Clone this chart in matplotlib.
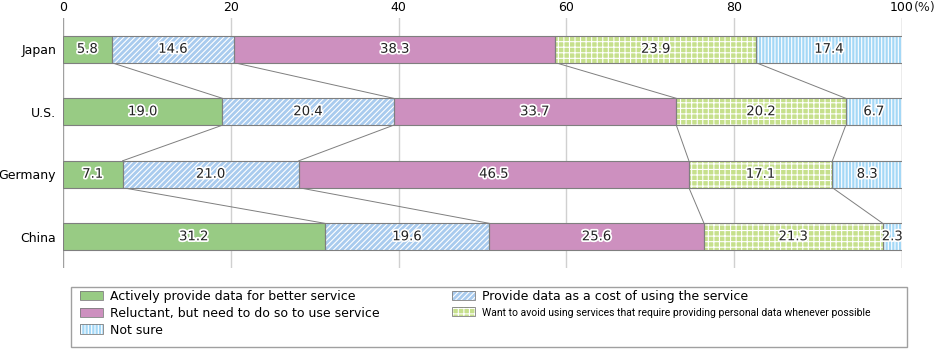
import matplotlib
matplotlib.use("Agg")
import matplotlib.pyplot as plt
import matplotlib.patheffects as pe
from matplotlib.patches import Patch, Rectangle
import numpy as np

countries = ["Japan", "U.S.", "Germany", "China"]
categories = [
    "Actively provide data for better service",
    "Provide data as a cost of using the service",
    "Reluctant, but need to do so to use service",
    "Want to avoid using services that require providing personal data whenever possible",
    "Not sure",
]
actively = [5.8, 19.0, 7.1, 31.2]
as_cost = [14.6, 20.4, 21.0, 19.6]
reluctant = [38.3, 33.7, 46.5, 25.6]
avoid = [23.9, 20.2, 17.1, 21.3]
not_sure = [17.4, 6.7, 8.3, 2.3]

series = [actively, as_cost, reluctant, avoid, not_sure]
colors = ["#98cb84", "#a9cbee", "#cd90bf", "#c6e08c", "#a4d8f6"]
hatches = [None, "//////", None, "+++", "|||||"]

plt.rcParams["font.family"] = ["DejaVu Sans"]
plt.rcParams["hatch.linewidth"] = 0.8
plt.rcParams["hatch.color"] = "white"

fig = plt.figure(figsize=(9.38, 3.49), dpi=100)
ax = fig.add_axes([63 / 938, 1 - 268 / 349, (902 - 63) / 938, (268 - 18) / 349])

y = np.arange(len(countries))
h = 0.43
left = np.zeros(len(countries))
edges = []
for vals, col, hat in zip(series, colors, hatches):
    vals = np.array(vals)
    # fill with white hatch, then gray outline on top
    ax.barh(y, vals, left=left, height=h, color=col, hatch=hat,
            linewidth=0, zorder=3)
    ax.barh(y, vals, left=left, height=h, fill=False,
            edgecolor="#7f7f7f", linewidth=0.8, zorder=4)
    for yi, l, v in zip(y, left, vals):
        ax.text(l + v / 2, yi, f"{v:.1f}", ha="center", va="center",
                fontsize=9.5, color="#222222", zorder=6,
                path_effects=[pe.withStroke(linewidth=2.5, foreground="white")])
    left = left + vals
    edges.append(left.copy())

# connector lines between the boundaries
for b in edges[:-1]:
    for i in range(len(countries) - 1):
        ax.plot([b[i], b[i + 1]], [y[i] + h / 2, y[i + 1] - h / 2],
                color="#7f7f7f", linewidth=0.7, zorder=2)

ax.set_xlim(0, 100)
ax.set_ylim(3.5, -0.5)
ax.set_yticks(y)
ax.set_yticklabels(countries, fontsize=9)
ax.set_xticks([0, 20, 40, 60, 80, 100])
ax.set_xticklabels(["0", "20", "40", "60", "80", "100"], fontsize=9)
ax.xaxis.tick_top()
ax.tick_params(length=0)
ax.tick_params(axis="x", pad=3)
ax.tick_params(axis="y", pad=5)
for s in ax.spines.values():
    s.set_visible(False)
for xv in [20, 40, 60, 80]:
    ax.axvline(xv, color="#d0d0d0", linewidth=1, zorder=1)
for xv in [0, 100]:
    ax.axvline(xv, color="#a0a0a0", linewidth=1, zorder=1)
fig.text(914 / 938, 1 - 8 / 349, "(%)", ha="left", va="center", fontsize=9,
         color="#222222")

# legend frame drawn by hand, two legends placed inside it
fig.patches.append(Rectangle((71 / 938, 2 / 349), (907 - 71) / 938, 60 / 349,
                             transform=fig.transFigure, fill=False,
                             edgecolor="#a0a0a0", linewidth=1.0))


def handle(i):
    return (Patch(facecolor=colors[i], hatch=hatches[i], linewidth=0),
            Patch(fill=False, edgecolor="#7f7f7f", linewidth=0.6))


kw = dict(loc="upper left", frameon=False, borderpad=0, borderaxespad=0,
          handlelength=1.85, handleheight=0.8, handletextpad=0.55,
          labelspacing=0.3, fontsize=9)
fig.legend([handle(0), handle(2), handle(4)],
           [categories[0], categories[2], categories[4]],
           bbox_to_anchor=(80 / 938, 1 - 290 / 349), **kw)
leg2 = fig.legend([handle(1), handle(3)], [categories[1], categories[3]],
                  bbox_to_anchor=(452 / 938, 1 - 290 / 349), **kw)
small = leg2.get_texts()[1]
small.set_family(["Roboto", "DejaVu Sans"])
small.set_fontsize(7.5)

fig.savefig("out.png", dpi=100)
